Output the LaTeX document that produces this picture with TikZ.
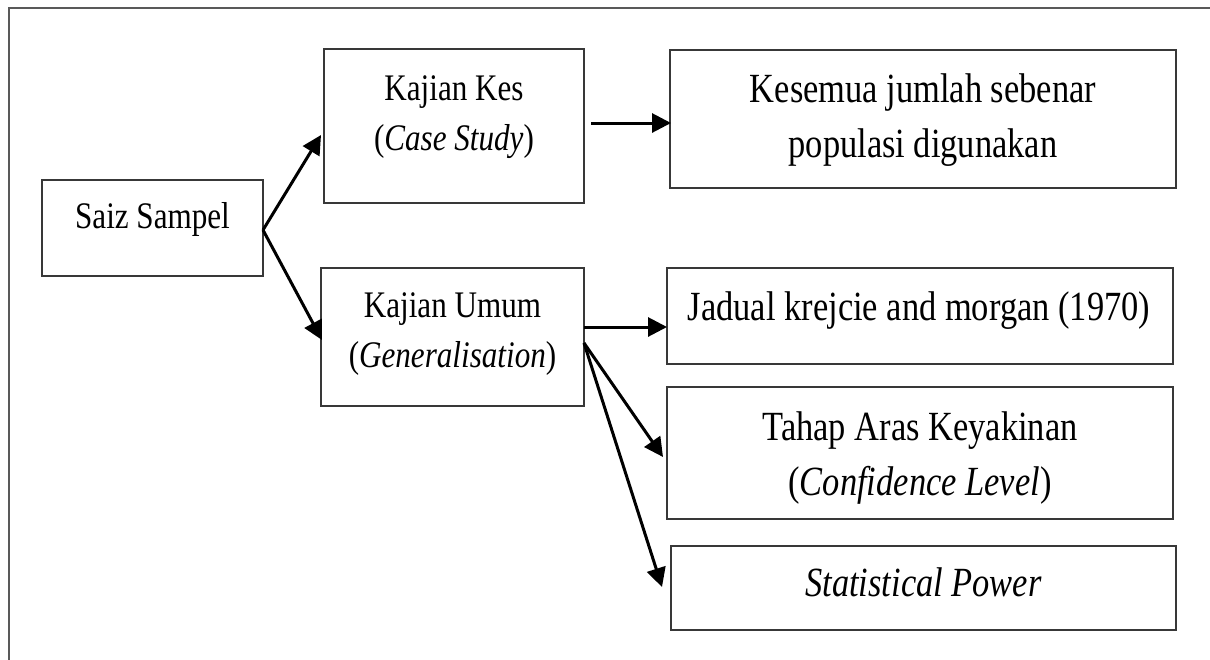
\documentclass[tikz,border=0pt]{standalone}
\usepackage{fontspec}
\setmainfont[FakeStretch=0.83]{Liberation Serif}
\usetikzlibrary{arrows.meta,calc}
\newcommand\twolines[2]{\begin{tabular}[t]{@{}c@{}}#1\\#2\end{tabular}}
\begin{document}
\begin{tikzpicture}[x=1pt,y=-1pt,
  box/.style={draw=black!78, line width=1.5pt, inner sep=0pt, outer sep=0pt},
  txa/.style={font=\fontsize{37.5}{50}\selectfont, inner sep=0pt, anchor=base},
  txb/.style={font=\fontsize{41.5}{55}\selectfont, inner sep=0pt, anchor=base},
  arr/.style={line width=3pt, -{Triangle[length=19pt,width=19pt]}}]
\useasboundingbox (0,0) rectangle (1210,659);
% outer frame (cropped)
\draw[black!65, line width=2pt] (9,662) -- (9,8) -- (1213,8);
% boxes
\node[box, minimum width=221pt, minimum height=96pt] (saiz) at (152.5,228) {};
\node[box, minimum width=260pt, minimum height=154pt] (kes) at (454,126) {};
\node[box, minimum width=263pt, minimum height=138pt] (umum) at (452.5,337) {};
\node[box, minimum width=506pt, minimum height=138pt] (kesemua) at (923,119) {};
\node[box, minimum width=506pt, minimum height=96pt] (jadual) at (920,316) {};
\node[box, minimum width=506pt, minimum height=132pt] (tahap) at (920,453) {};
\node[box, minimum width=505pt, minimum height=84pt] (stat) at (923.5,588) {};
% texts
\node[txa] (saizt) at (152.5,228) {Saiz Sampel};
\node[txa] (kest) at (454,100) {\twolines{Kajian Kes}{(\textit{Case Study})}};
\node[txa] (umumt) at (452.5,317) {\twolines{Kajian Umum}{(\textit{Generalisation})}};
\node[txb] (kesemuat) at (923,102) {\twolines{Kesemua jumlah sebenar}{populasi digunakan}};
\node[txb] (jadualt) at (919,320) {Jadual krejcie and morgan (1970)};
\node[txb] (tahapt) at (920,440) {\twolines{Tahap Aras Keyakinan}{(\textit{Confidence Level})}};
\node[txb] (statt) at (923.5,596) {\textit{Statistical Power}};
% connectors
\draw[arr] ($(saiz.east)+(0,2)$) -- ($(kes.west)+(-3,9)$);
\draw[arr] ($(saiz.east)+(0,2)$) -- ($(umum.west)+(1,3)$);
\draw[arr] ($(kes.east)+(7,-3)$) -- ($(kesemua.west)+(1,4)$);
\draw[arr] ($(umum.east)+(0,-10)$) -- ($(jadual.west)+(0,11)$);
\draw[arr] ($(umum.east)+(0,6)$) -- ($(tahap.west)+(-4,4)$);
\draw[arr] ($(umum.east)+(0,6)$) -- ($(stat.west)+(-9,-1)$);
\end{tikzpicture}
\end{document}
